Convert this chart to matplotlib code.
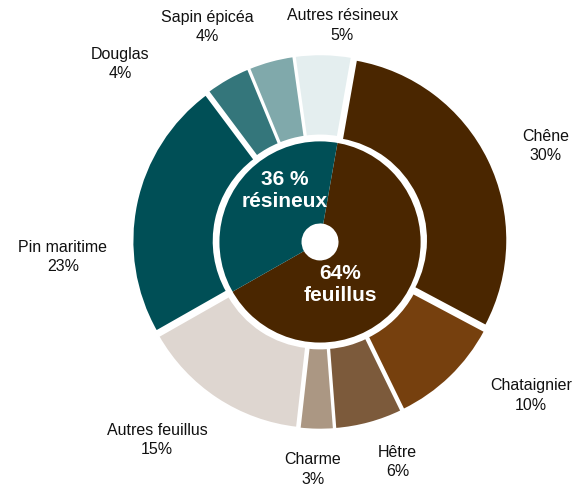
import matplotlib.pyplot as plt

plt.rcParams['font.family'] = ['Liberation Sans', 'DejaVu Sans']

# Outer ring: species
species = ['Chêne', 'Chataignier', 'Hêtre', 'Charme', 'Autres feuillus',
           'Pin maritime', 'Douglas', 'Sapin épicéa', 'Autres résineux']
shares = [30, 10, 6, 3, 15, 23, 4, 4, 5]
species_colors = ['#4a2600', '#76400e', '#7c5a3b', '#ab9783', '#ded6d0',
                  '#004f56', '#34767b', '#80a9ab', '#e4eeef']

# Inner ring: groups
groups = ['feuillus', 'résineux']
group_shares = [64, 36]
group_labels = ['64%\nfeuillus', '36 %\nrésineux']
group_colors = ['#4a2600', '#004f56']

# label positions (data units, centre = 0,0)
label_pos = [(1.22, 0.52), (1.14, -0.83), (0.42, -1.19), (-0.04, -1.23),
             (-0.88, -1.07), (-1.39, -0.08), (-1.08, 0.96), (-0.61, 1.16),
             (0.12, 1.17)]
group_label_pos = [(0.11, -0.23), (-0.19, 0.28)]

fig = plt.figure(figsize=(5.79, 4.88), dpi=100)
ax = fig.add_axes([0, 0, 1, 1])

start = 80
ax.pie(shares, colors=species_colors, startangle=start, counterclock=False,
       radius=0.99, explode=[0.025] * len(shares),
       wedgeprops=dict(width=0.44, edgecolor='white', linewidth=1.5))

ax.pie(group_shares, colors=group_colors, startangle=start, counterclock=False,
       radius=0.55, wedgeprops=dict(width=0.45, edgecolor='none', linewidth=0))
ax.add_patch(plt.Circle((0, 0), 0.555, fill=False, edgecolor='white', linewidth=3))

for name, val, (x, y) in zip(species, shares, label_pos):
    ax.text(x, y, f'{name}\n{val}%', ha='center', va='center',
            fontsize=11.5, color='#111111', linespacing=1.35)

for txt, (x, y) in zip(group_labels, group_label_pos):
    ax.text(x, y, txt, ha='center', va='center', fontsize=15,
            fontweight='bold', color='white', linespacing=1.2)

ax.set_xlim(-1.73, 1.40)
ax.set_ylim(-1.33, 1.308)
ax.set_aspect('equal')
ax.axis('off')

fig.savefig('out.png', dpi=100)
